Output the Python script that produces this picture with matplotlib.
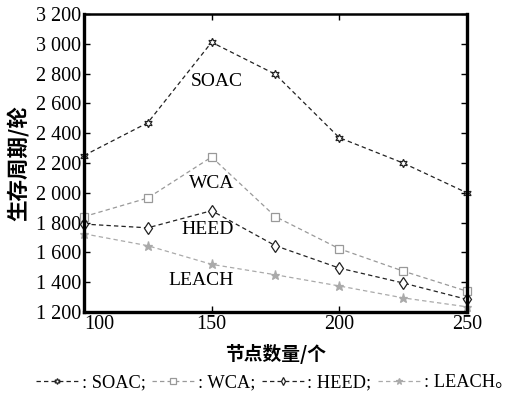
import matplotlib
matplotlib.use("Agg")
import matplotlib.pyplot as plt
from matplotlib.ticker import FuncFormatter

plt.rcParams['font.family'] = ['Liberation Serif', 'Noto Sans CJK SC']

nodes = [100, 125, 150, 175, 200, 225, 250]
soac = [2250, 2470, 3010, 2795, 2370, 2200, 2000]
wca = [1840, 1965, 2240, 1840, 1625, 1475, 1340]
heed = [1790, 1765, 1880, 1645, 1495, 1395, 1285]
leach = [1725, 1645, 1520, 1450, 1375, 1295, 1235]

names = ['SOAC', 'WCA', 'HEED', 'LEACH']
x_ticks = [100, 150, 200, 250]
y_ticks = list(range(1200, 3201, 200))

fig = plt.figure(figsize=(5.23, 3.98), dpi=100)
ax = fig.add_axes([0.1606, 0.216, 0.732, 0.749])

dash = (0, (3.5, 2.5))
styles = [
    dict(color='#222222', marker=(6, 1, 0), ms=6, mfc='white', mec='#222222'),
    dict(color='#999999', marker='s', ms=6, mfc='white', mec='#999999'),
    dict(color='#222222', marker='d', ms=6, mfc='white', mec='#222222'),
    dict(color='#aaaaaa', marker='*', ms=6.5, mfc='#aaaaaa', mec='#aaaaaa'),
]
handles = []
for ys, st in zip([soac, wca, heed, leach], styles):
    h, = ax.plot(nodes, ys, linestyle=dash, lw=0.9, mew=0.9, clip_on=False, **st)
    handles.append(h)

ax.set_xlim(100, 250)
ax.set_ylim(1200, 3200)
ax.set_xticks(x_ticks)
ax.set_yticks(y_ticks)
ax.yaxis.set_major_formatter(FuncFormatter(lambda v, p: f"{int(v):,}".replace(',', ' ')))
ax.tick_params(direction='in', top=True, right=True, length=4, width=1,
               labelsize=14.5, pad=2)
first = ax.get_xticklabels()[0]
first.set_ha('left')

for side in ['left', 'bottom', 'right']:
    ax.spines[side].set_linewidth(2.4)
ax.spines['top'].set_linewidth(1.8)

# series labels inside the plot
ax.text(152, 2750, 'SOAC', ha='center', va='center', fontsize=14)
ax.text(150, 2060, 'WCA', ha='center', va='center', fontsize=14)
ax.text(148.5, 1752, 'HEED', ha='center', va='center', fontsize=14)
ax.text(146, 1410, 'LEACH', ha='center', va='center', fontsize=14)

ax.set_ylabel('生存周期/轮', family=['Noto Sans CJK SC'], fontsize=15.5, fontweight='bold', labelpad=5)
ax.set_xlabel('节点数量/个', family=['Noto Sans CJK SC'], fontsize=13.5, fontweight='bold', labelpad=7)

labels = [': SOAC;', ': WCA;', ': HEED;', ': LEACH。']
fig.legend(handles, labels, loc='center', bbox_to_anchor=(0.525, 0.038), ncol=4,
           frameon=False, fontsize=13.2, handlelength=2.3, handletextpad=0.2,
           columnspacing=0.35, borderpad=0, markerscale=0.7)

fig.savefig('out.png', dpi=100)
